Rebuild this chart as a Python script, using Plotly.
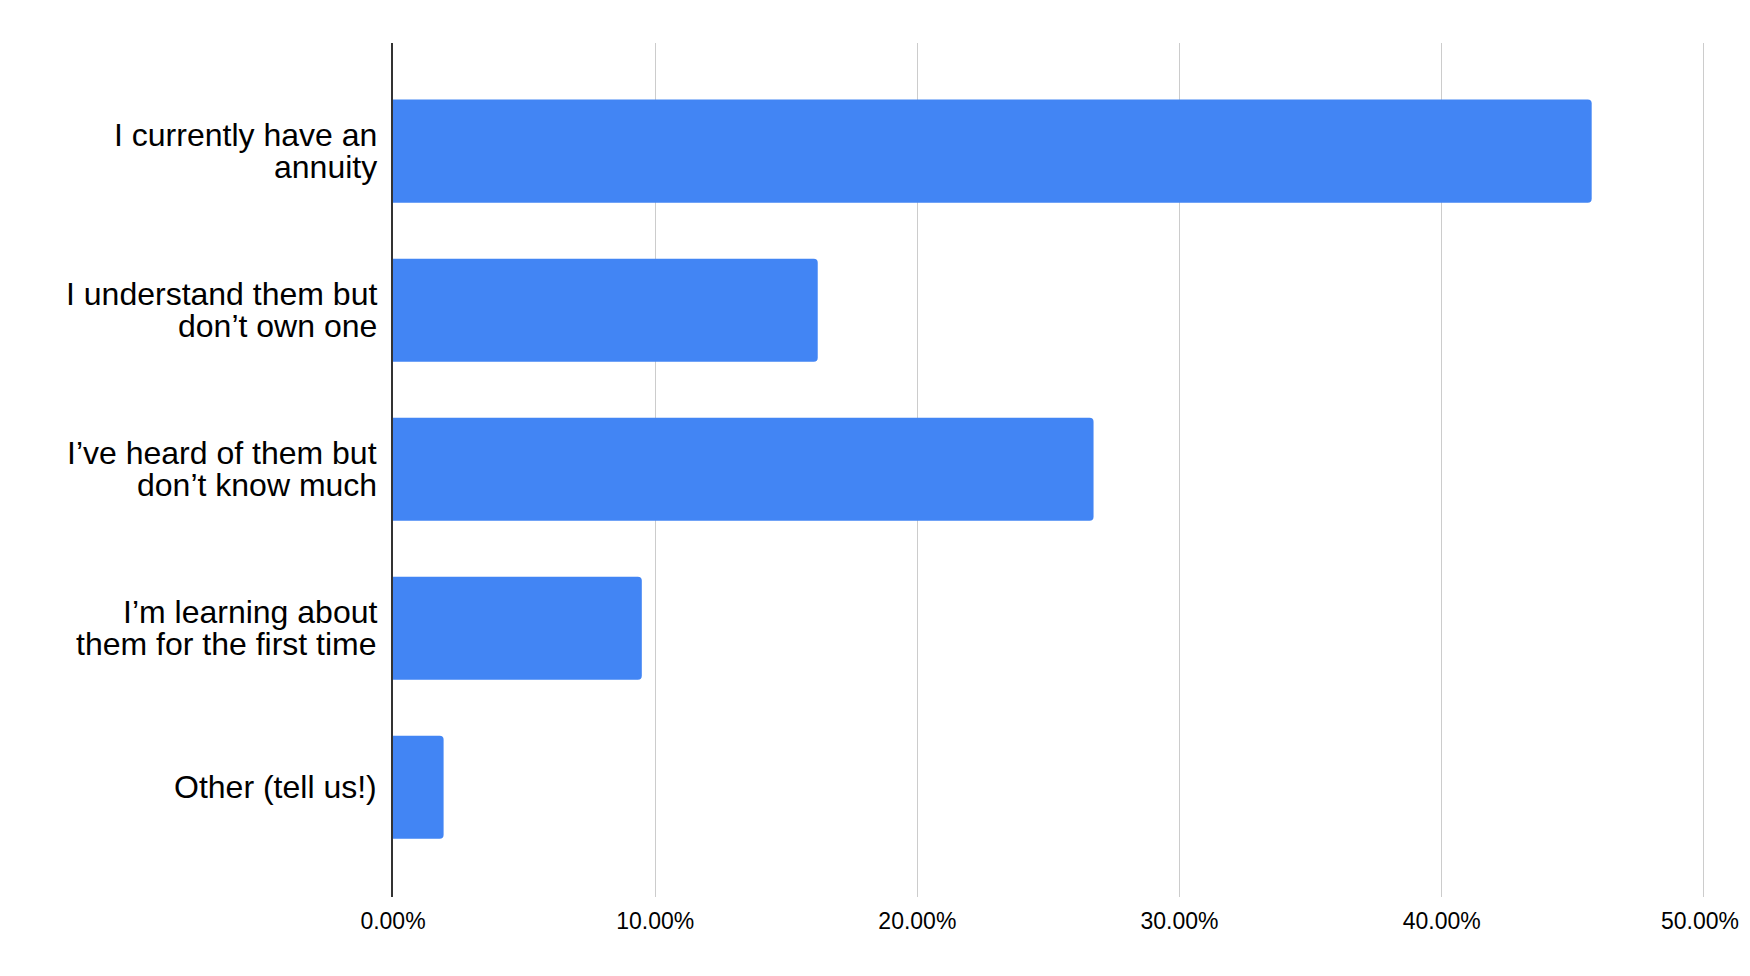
import plotly.graph_objects as go

categories = [
    "I currently have an<br>annuity",
    "I understand them but<br>don’t own one",
    "I’ve heard of them but<br>don’t know much",
    "I’m learning about<br>them for the first time",
    "Other (tell us!)",
]
values = [45.72, 16.2, 26.72, 9.49, 1.93]
tick_vals = [0, 10, 20, 30, 40, 50]
tick_text = ["0.00%", "10.00%", "20.00%", "30.00%", "40.00%", "50.00%"]

FONT = "Liberation Sans, Arial, sans-serif"
TICK_SIZE = 23

fig = go.Figure()
fig.add_trace(go.Bar(
    x=values,
    y=list(range(len(categories))),
    orientation="h",
    marker=dict(color="#4285F4", line=dict(width=0)),
    hoverinfo="x",
))

# category labels (tighter line spacing than plotly's default tick labels)
line_gap = 31.7
for i, cat in enumerate(categories):
    lines = cat.split("<br>")
    n = len(lines)
    for j, ln in enumerate(lines):
        offset = (j - (n - 1) / 2) * line_gap
        fig.add_annotation(
            x=0, xref="paper", y=i, yref="y",
            text=ln, showarrow=False,
            xanchor="right", yanchor="middle",
            xshift=-15, yshift=-offset,
            borderpad=0,
            font=dict(family=FONT, size=32, color="#000000"),
        )

# last tick label drawn as an annotation anchored to the right so it never
# runs past the page edge (which would make the page rescale)
axis_ticktext = tick_text[:-1] + [""]
fig.add_annotation(
    x=tick_vals[-1], xref="x", y=0, yref="paper",
    text=tick_text[-1], showarrow=False,
    xanchor="right", yanchor="middle",
    xshift=36, yshift=-24,
    borderpad=0,
    font=dict(family=FONT, size=TICK_SIZE, color="#000000"),
)

# page body has an 8px default margin; size the figure so the page fits the window
fig.update_layout(
    width=1734, height=960,
    margin=dict(l=385, r=36, t=35, b=71),
    plot_bgcolor="#ffffff", paper_bgcolor="#ffffff",
    bargap=0.352,
    barcornerradius=4,
    showlegend=False,
    font=dict(family=FONT, color="#000000"),
)
fig.update_xaxes(
    range=[0, 50.08],
    tickvals=tick_vals, ticktext=axis_ticktext,
    showgrid=True, gridcolor="#cccccc", gridwidth=1.3,
    zeroline=False, showline=False,
    ticks="", ticklabelstandoff=8,
    tickfont=dict(family=FONT, size=TICK_SIZE, color="#000000"),
    fixedrange=True,
)
fig.update_yaxes(
    range=[len(categories) - 1 + 0.69, -0.68],
    showticklabels=False, showgrid=False, zeroline=False,
    showline=True, linecolor="#333333", linewidth=1.6,
    ticks="",
    fixedrange=True,
)

fig.write_html("out.html", config={"displayModeBar": False})
